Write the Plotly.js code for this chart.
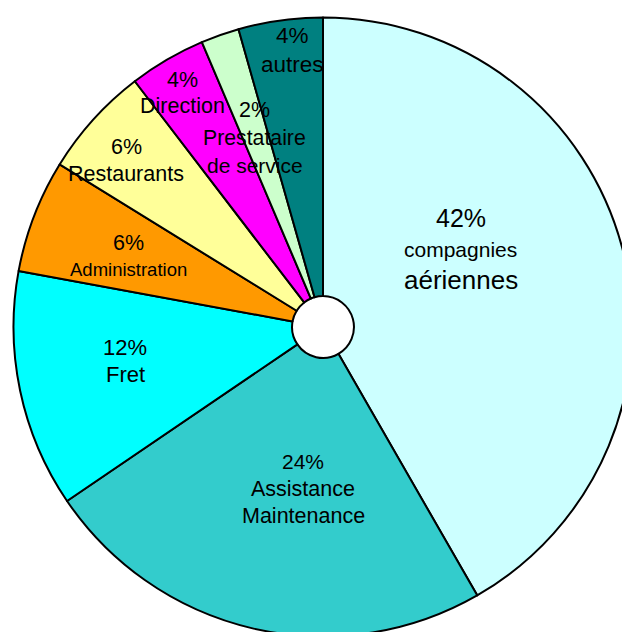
<!DOCTYPE html>
<html>
<head>
<meta charset="utf-8">
<script src="https://cdn.plot.ly/plotly-3.0.1.min.js"></script>
<style>
  html, body { margin: 0; padding: 0; overflow: hidden; background: #ffffff; }
  #chart { width: 646px; height: 650px; }
</style>
</head>
<body>
<div id="chart"></div>
<script>
// ---- data ----
const categories = ['compagnies aériennes', 'Assistance Maintenance', 'Fret', 'Administration',
                    'Restaurants', 'Direction', 'Prestataire de service', 'autres'];
const values = [41.7, 23.8, 12.4, 5.9, 5.8, 4.0, 2.0, 4.4];
const labelLines = [['compagnies', 'aériennes'], ['Assistance', 'Maintenance'], ['Fret'],
                    ['Administration'], ['Restaurants'], ['Direction'],
                    ['Prestataire', 'de service'], ['autres']];
const colors = ['#CCFFFF', '#33CCCC', '#00FFFF', '#FF9900', '#FFFF99', '#FF00FF', '#CCFFCC', '#008080'];

// ---- label placement (style) ----
const labelAngleOffset = [-14.56, -5.96, 2.18, -1.06, -1.82, -0.66, -0.36, 1.72];
const labelRadius = [0.512, 0.527, 0.649, 0.67, 0.834, 0.881, 0.649, 0.9];
const lineSizes = [[25, 21, 26], [21, 21.5, 21.5], [22, 22], [21.5, 18.5], [21.5, 21.5],
                   [21.5, 21.5], [21.5, 21.25, 21], [22.5, 22.5]];
const lineSpacing = [[32, 30], [27, 27], [27], [27], [27], [26], [28, 27], [29]];

const W = 646, H = 650;
const cx = 323, cy = 327, R = 309.5;

const total = values.reduce((a, b) => a + b, 0);
const annotations = [];
let cum = 0;
values.forEach((v, i) => {
  const mid = (cum + v / 2) / total * 360;
  cum += v;
  const th = (mid + labelAngleOffset[i]) * Math.PI / 180;
  const bx = cx + labelRadius[i] * R * Math.sin(th);
  const by = cy - labelRadius[i] * R * Math.cos(th);
  const lines = [Math.round(v / total * 100) + '%'].concat(labelLines[i]);
  const offs = [0];
  for (let k = 1; k < lines.length; k++) offs.push(offs[k - 1] + lineSpacing[i][k - 1]);
  const mean = offs.reduce((a, b) => a + b, 0) / offs.length;
  lines.forEach((t, k) => {
    const py = by + offs[k] - mean;
    annotations.push({
      text: t, showarrow: false, xref: 'paper', yref: 'paper',
      x: bx / W, y: 1 - py / H, xanchor: 'center', yanchor: 'middle',
      font: { family: 'Liberation Sans, Arial, sans-serif', size: lineSizes[i][k], color: '#000000' }
    });
  });
});

const trace = {
  type: 'pie',
  labels: categories,
  values: values,
  sort: false,
  direction: 'clockwise',
  rotation: 0,
  hole: 0.1,
  textinfo: 'none',
  hoverinfo: 'none',
  marker: { colors: colors, line: { color: '#000000', width: 2 } },
  domain: { x: [(cx - R) / W, (cx + R) / W], y: [(H - cy - R) / H, (H - cy + R) / H] }
};

Plotly.newPlot('chart', [trace], {
  width: W, height: H,
  margin: { l: 0, r: 0, t: 0, b: 0, pad: 0 },
  showlegend: false,
  paper_bgcolor: '#ffffff',
  plot_bgcolor: '#ffffff',
  annotations: annotations
}, { displayModeBar: false, staticPlot: true });
</script>
</body>
</html>
